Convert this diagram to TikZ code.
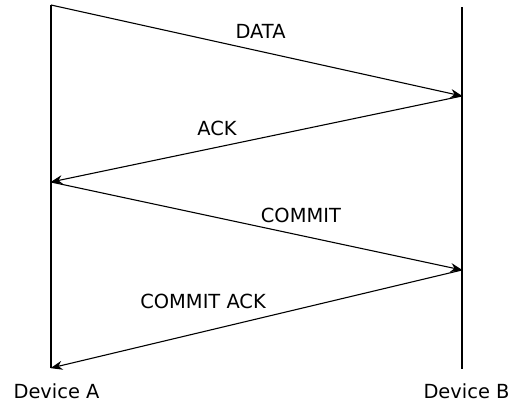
\documentclass[tikz,border=0pt]{standalone}
\usepackage{fontspec}
\setmainfont{DejaVu Sans}
\usetikzlibrary{arrows.meta,positioning,calc}
\tikzset{
  life/.style ={draw=black,line width=1.6pt},
  msg/.style  ={-{Stealth[length=12bp,width=9bp]},draw=black,line width=1.1pt,shorten >=-0.5bp},
  lbl/.style  ={font=\fontsize{19.5}{23}\selectfont,inner sep=0pt},
  dev/.style  ={font=\fontsize{19.5}{23}\selectfont,inner sep=0pt},
}
\begin{document}
\begin{tikzpicture}[x=1bp,y=-1bp]
\useasboundingbox (0,0) rectangle (511,403);

% ===== devices and lifelines =============================================
\node[dev] (devA) at (56.5,391) {Device A};
\node[dev] (devB) at (466.5,391) {Device B};

\coordinate (aTop) at (51,5);
\coordinate (bTop) at (462,7);
\coordinate (aBot) at (51,368);
\coordinate (bBot) at (462,369);
\draw[life] (aTop) -- (aBot);
\draw[life] (bTop) -- (bBot);

% message endpoints on the lifelines
\coordinate (b1) at (462,96);
\coordinate (a2) at (51,182);
\coordinate (b3) at (462,270);

% ===== exchange ==========================================================
\draw[msg] (aTop) -- node[lbl,pos=0.51,yshift=20bp] (lData) {DATA} (b1);
\draw[msg] (b1) -- node[lbl,pos=0.596,yshift=19bp] (lAck) {ACK} (a2);
\draw[msg] (a2) -- node[lbl,pos=0.608,yshift=20.5bp] (lCommit) {COMMIT} (b3);
\draw[msg] (b3) -- node[lbl,pos=0.63,yshift=30bp] (lCommitAck) {COMMIT ACK} (aBot);
\end{tikzpicture}
\end{document}
